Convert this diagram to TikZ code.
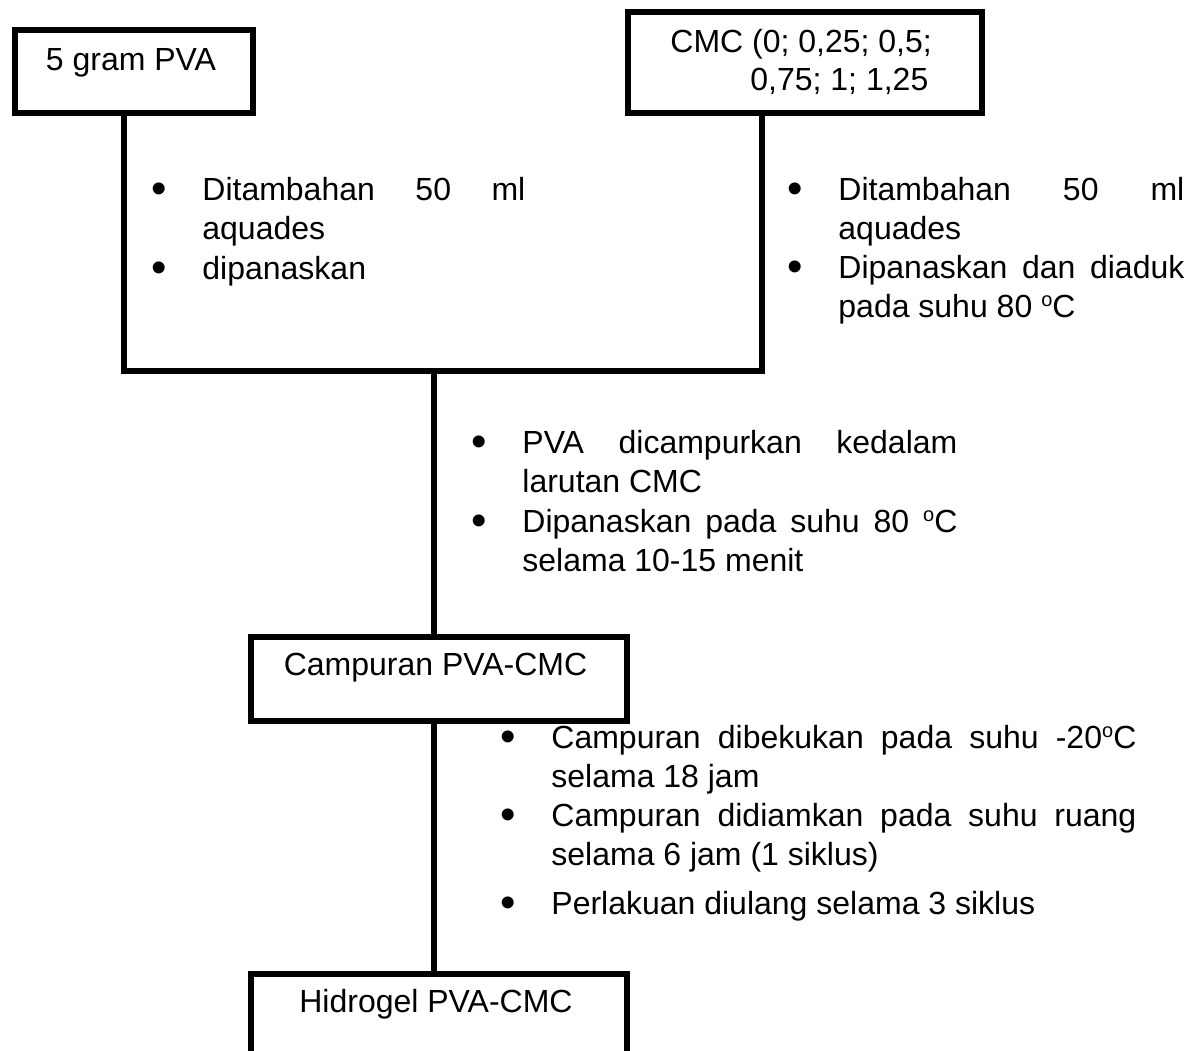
\documentclass[tikz,border=0pt]{standalone}
\usepackage{fontspec}
\setmainfont{Liberation Sans}
\newlength\px \setlength\px{0.5pt}
\newcommand\ff[1]{\fontsize{16pt}{#1}\selectfont}
\newcommand\bl{\leavevmode\llap{\makebox[86\px]{\raisebox{-1.6pt}{\fontsize{22pt}{22pt}\selectfont\textbullet}}}}
\newcommand\jl[2]{\makebox[#1\px][s]{#2}}
\newcommand\dg{\raisebox{5.2pt}{\fontsize{10pt}{10pt}\selectfont o}}
\hyphenpenalty=10000
\begin{document}
\begin{tikzpicture}[x=0.5pt,y=-0.5pt,
  box/.style={draw, line width=3pt, inner sep=0pt, anchor=north west},
  conn/.style={line width=2.8pt},
  lbl/.style={inner sep=0pt, anchor=base, font=\ff{19.75pt}},
  blk/.style={inner sep=0pt, anchor=base west}]
\useasboundingbox (0,0) rectangle (1202,1050);
\clip (0,0) rectangle (1202,1050);

% boxes
\node[box, minimum width=119pt, minimum height=41.25pt] (pva) at (12,27) {};
\node[box, minimum width=177pt, minimum height=50.5pt] (cmc) at (625,8.5) {};
\node[box, minimum width=188pt, minimum height=42pt] (camp) at (248,633.5) {};
\node[box, minimum width=188pt, minimum height=70pt] (hid) at (248,970.5) {};

% box texts
\node[lbl] (pvat) at (131,70) {5 gram PVA};
\node[lbl, anchor=base west] (cmct) at (670,52) {\parbox[t]{300\px}{\ff{19pt}CMC (0; 0,25; 0,5;\\\hspace*{80\px}0,75; 1; 1,25}};
\node[lbl] (campt) at (435.5,675) {Campuran PVA-CMC};
\node[lbl] (hidt) at (436,1012) {Hidrogel PVA-CMC};

% connectors
\coordinate (jl) at (124,371);
\coordinate (jr) at (762,371);
\coordinate (jm) at (434,371);
\draw[conn] (pva.south -| jl) -- (jl) -- (jr) -- (cmc.south -| jr);
\draw[conn] (jm) -- (camp.north -| jm);
\draw[conn] (camp.south -| jm) -- (hid.north -| jm);

% step texts
\node[blk] (t1) at (202,200) {\parbox[t]{330\px}{\ff{19.75pt}%
\bl\jl{323}{Ditambahan 50 ml}\\
aquades\\
\bl dipanaskan}};

\node[blk] (t2) at (838,200) {\parbox[t]{350\px}{\ff{19.5pt}%
\bl\jl{346}{Ditambahan 50 ml}\\
aquades\\
\bl\jl{346}{Dipanaskan dan diaduk}\\
pada suhu 80 \dg C}};

\node[blk] (t3) at (522,453) {\parbox[t]{440\px}{\ff{19.75pt}%
\bl\jl{435}{PVA dicampurkan kedalam}\\
larutan CMC\\
\bl\jl{435}{Dipanaskan pada suhu 80 \dg C}\\
selama 10-15 menit}};

\node[blk] (t4) at (551,748) {\parbox[t]{590\px}{\ff{19.5pt}%
\bl\jl{585}{Campuran dibekukan pada suhu -20\dg C}\\
selama 18 jam\\
\bl\jl{585}{Campuran didiamkan pada suhu ruang}\\
selama 6 jam (1 siklus)\\[5pt]
\bl Perlakuan diulang selama 3 siklus}};
\end{tikzpicture}
\end{document}
